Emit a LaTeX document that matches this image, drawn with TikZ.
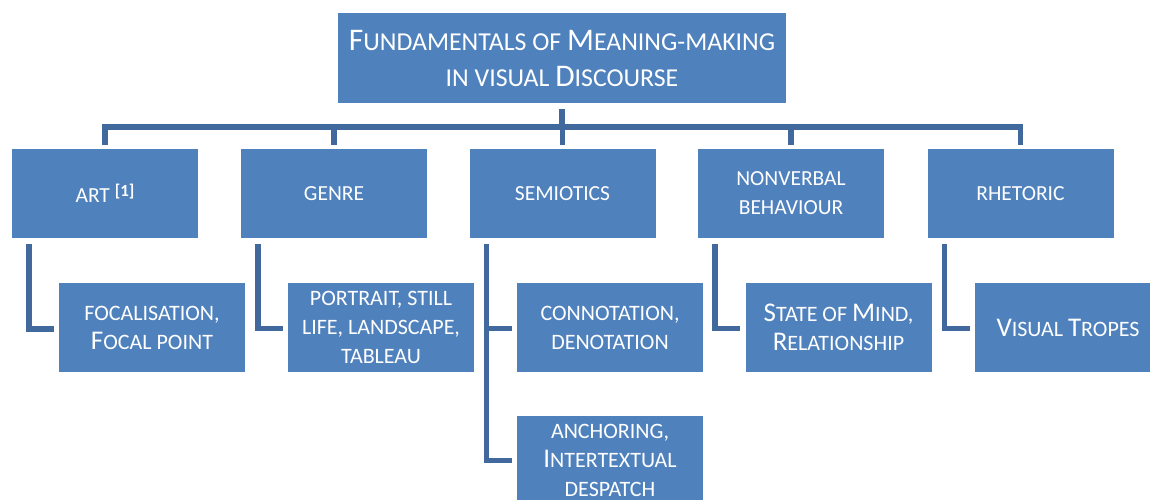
\documentclass[tikz,border=0pt]{standalone}
\usepackage{fontspec}
\setmainfont{Carlito}
\usetikzlibrary{calc}
\definecolor{boxblue}{HTML}{4F81BD}
\definecolor{linkblue}{HTML}{41699D}
\newcommand\BigL[1]{{\fontsize{27}{29}\selectfont #1}}
\newcommand\TopL[1]{{\fontsize{31.5}{36}\selectfont #1}}
\begin{document}
\begin{tikzpicture}[x=1pt,y=1pt,
  box/.style={fill=boxblue,text=white,align=center,inner sep=0pt,
    minimum width=186pt,minimum height=89pt,font=\fontsize{21.5}{29}\selectfont},
  childbox/.style={box,font=\fontsize{22}{29}\selectfont},
  topbox/.style={box,minimum width=448pt,minimum height=90pt,font=\fontsize{25.8}{36}\selectfont},
  conn/.style={draw=linkblue,line width=5.5pt}]
\useasboundingbox (0,-500) rectangle (1150,0);
\clip (0,-500) rectangle (1150,0);
% top
\node[topbox] (top) at (562,-58) {\TopL{F}UNDAMENTALS OF \TopL{M}EANING-MAKING\\IN VISUAL \TopL{D}ISCOURSE};
% level 1
\node[box] (art)   at (105,-193.5)   {ART \raisebox{6pt}{\fontsize{17}{17}\selectfont\bfseries [1]}};
\node[box] (genre) at (334,-193.5)   {GENRE};
\node[box] (semi)  at (562.5,-193.5) {SEMIOTICS};
\node[box] (nonv)  at (791,-193.5)   {NONVERBAL\\BEHAVIOUR};
\node[box] (rhet)  at (1020.5,-193.5){RHETORIC};
% level 2
\node[childbox] (cart)   at (152,-327.5)  {FOCALISATION,\\\BigL{F}OCAL POINT};
\node[childbox] (cgenre) at (381,-327.5)  {PORTRAIT, STILL\\LIFE, LANDSCAPE,\\TABLEAU};
\node[childbox] (csemia) at (610,-327.5)  {CONNOTATION,\\DENOTATION};
\node[childbox] (csemib) at (610,-460.5)  {ANCHORING,\\\BigL{I}NTERTEXTUAL\\DESPATCH};
\node[childbox] (cnonv)  at (838.5,-327.5){\BigL{S}TATE OF \BigL{M}IND,\\\BigL{R}ELATIONSHIP};
\node[childbox] (crhet)  at (1068,-327.5) {\BigL{V}ISUAL \BigL{T}ROPES};
% top connectors
\foreach \n in {art,genre,semi,nonv,rhet}{
  \draw[conn] ([yshift=-6pt]top.south) |- ($(\n.north)+(0,22)$) -- ([yshift=4pt]\n.north);
}
% child connectors
\draw[conn] ($(art.south west)+(17,-6)$)   |- ($(cart.west)+(-5,-1.5)$);
\draw[conn] ($(genre.south west)+(17,-6)$) |- ($(cgenre.west)+(-5,-1)$);
\draw[conn] ($(semi.south west)+(17,-6)$)  |- ($(csemia.west)+(-5,-1)$);
\draw[conn] ($(semi.south west)+(17,-6)$)  |- ($(csemib.west)+(-5,0)$);
\draw[conn] ($(nonv.south west)+(17,-6)$)  |- ($(cnonv.west)+(-5,-1)$);
\draw[conn] ($(rhet.south west)+(17,-6)$)  |- ($(crhet.west)+(-5,-1)$);
\end{tikzpicture}
\end{document}
